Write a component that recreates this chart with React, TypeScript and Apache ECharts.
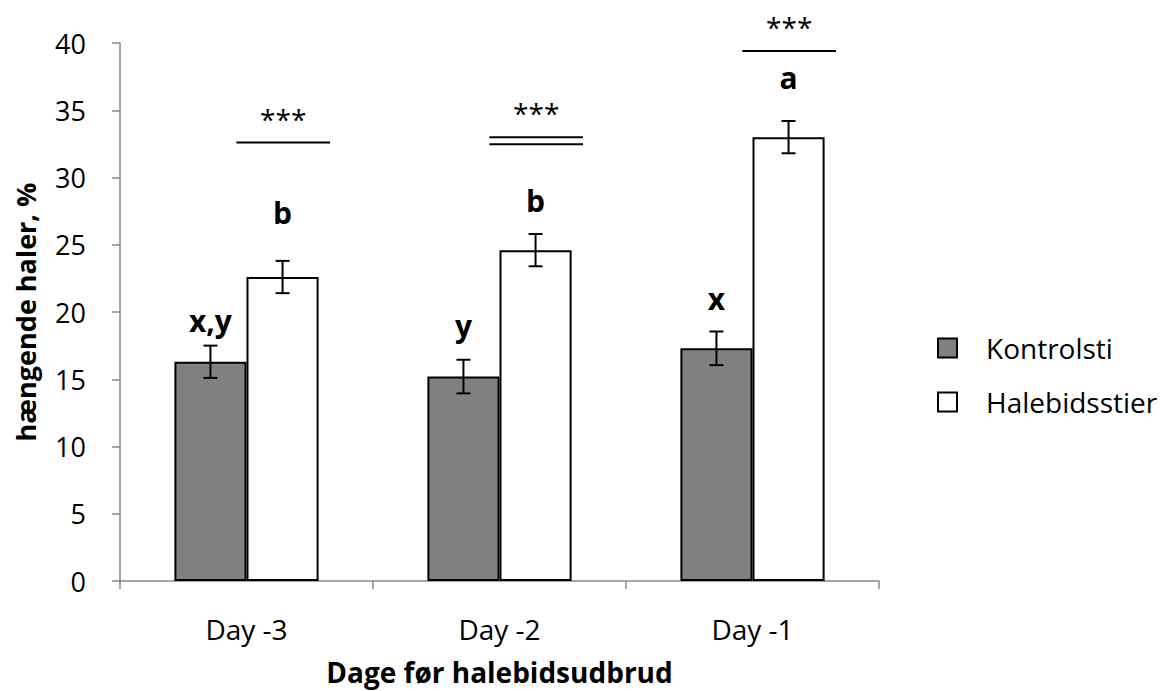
import React, { useEffect, useRef } from "react";
import * as echarts from "echarts";

const categories = ["Day -3", "Day -2", "Day -1"];
const kontrolValues = [16.3, 15.2, 17.3];
const kontrolErrors = [1.2, 1.25, 1.25];
const haleValues = [22.6, 24.6, 33.0];
const haleErrors = [1.2, 1.2, 1.2];
const kontrolLetters = ["x,y", "y", "x"];
const kontrolLetterY = [19.4, 19.0, 21.0];
const haleLetters = ["b", "b", "a"];
const haleLetterY = [27.4, 28.3, 37.4];
const sigLineY = [32.6, 33.0, 39.4];
const sigDouble = [0, 1, 0];
const sigText = ["***", "***", "***"];
const yTicks = [0, 5, 10, 15, 20, 25, 30, 35, 40];

const FONT = "'Open Sans', 'Noto Sans', sans-serif";
const BAR_FRAC = 0.285;

export default function App() {
  const ref = useRef<HTMLDivElement>(null);
  useEffect(() => {
    document.body.style.margin = "0";
    const chart = echarts.init(ref.current!, null, { renderer: "svg" });

    const errData: any[] = [];
    categories.forEach((_, i) => {
      errData.push([i, kontrolValues[i], kontrolErrors[i], -1]);
      errData.push([i, haleValues[i], haleErrors[i], 1]);
    });
    const letterData: any[] = [];
    categories.forEach((_, i) => {
      letterData.push([i, kontrolLetterY[i], -1, kontrolLetters[i]]);
      letterData.push([i, haleLetterY[i], 1, haleLetters[i]]);
    });
    const sigData = categories.map((_, i) => [i, sigLineY[i], sigDouble[i], sigText[i]]);

    const option: any = {
      animation: false,
      textStyle: { fontFamily: FONT },
      grid: { left: 120, right: 282, top: 43, bottom: 110, containLabel: false },
      legend: {
        data: ["Kontrolsti", "Halebidsstier"],
        orient: "vertical",
        left: 932,
        top: 329,
        itemWidth: 19,
        itemHeight: 19,
        itemGap: 26,
        icon: "rect",
        textStyle: { fontSize: 28, color: "#000", fontFamily: FONT, padding: [0, 0, 0, 24] },
      },
      xAxis: {
        type: "category",
        data: categories,
        axisLine: { lineStyle: { color: "#888", width: 1.5 } },
        axisTick: { show: true, length: 8, lineStyle: { color: "#888", width: 1.5 } },
        axisLabel: { fontSize: 28, color: "#000", margin: 34, fontFamily: FONT },
        name: "Dage før halebidsudbrud",
        nameLocation: "middle",
        nameGap: 77,
        nameTextStyle: { fontSize: 28, fontWeight: "bold", color: "#000", fontFamily: FONT },
      },
      yAxis: {
        type: "value",
        min: yTicks[0],
        max: yTicks[yTicks.length - 1],
        interval: yTicks[1] - yTicks[0],
        splitLine: { show: false },
        axisLine: { show: true, lineStyle: { color: "#888", width: 1.5 } },
        axisTick: { show: true, length: 8, lineStyle: { color: "#888", width: 1.5 } },
        axisLabel: { fontSize: 27, color: "#000", margin: 34, fontFamily: FONT },
        name: "hængende haler, %",
        nameLocation: "middle",
        nameGap: 81,
        nameTextStyle: { fontSize: 27, fontWeight: "bold", color: "#000", fontFamily: FONT },
      },
      series: [
        {
          name: "Kontrolsti",
          type: "bar",
          data: kontrolValues,
          barWidth: BAR_FRAC * 100 + "%",
          barGap: "0%",
          itemStyle: { color: "#808080", borderColor: "#000", borderWidth: 2 },
        },
        {
          name: "Halebidsstier",
          type: "bar",
          data: haleValues,
          barWidth: BAR_FRAC * 100 + "%",
          barGap: "0%",
          itemStyle: { color: "#ffffff", borderColor: "#000", borderWidth: 2 },
        },
        {
          name: "errors",
          type: "custom",
          data: errData,
          z: 10,
          renderItem: (params: any, api: any) => {
            const cat = api.value(0);
            const v = api.value(1);
            const e = api.value(2);
            const side = api.value(3);
            const w = api.size([1, 0])[0];
            const cx = api.coord([cat, v])[0] + (side * BAR_FRAC * w) / 2;
            const top = api.coord([cat, v + e])[1];
            const bot = api.coord([cat, v - e])[1];
            const cap = 7;
            const st = { stroke: "#000", lineWidth: 2 };
            return {
              type: "group",
              children: [
                { type: "line", shape: { x1: cx, y1: top, x2: cx, y2: bot }, style: st },
                { type: "line", shape: { x1: cx - cap, y1: top, x2: cx + cap, y2: top }, style: st },
                { type: "line", shape: { x1: cx - cap, y1: bot, x2: cx + cap, y2: bot }, style: st },
              ],
            };
          },
        },
        {
          name: "letters",
          type: "custom",
          data: letterData,
          z: 10,
          renderItem: (params: any, api: any) => {
            const cat = api.value(0);
            const v = api.value(1);
            const side = api.value(2);
            const txt = letterData[params.dataIndex][3];
            const w = api.size([1, 0])[0];
            const p = api.coord([cat, v]);
            return {
              type: "text",
              style: {
                x: p[0] + (side * BAR_FRAC * w) / 2,
                y: p[1],
                text: txt,
                fontSize: 30,
                fontWeight: "bold",
                fontFamily: FONT,
                fill: "#000",
                align: "center",
                verticalAlign: "middle",
              },
            };
          },
        },
        {
          name: "significance",
          type: "custom",
          data: sigData,
          z: 10,
          renderItem: (params: any, api: any) => {
            const cat = api.value(0);
            const v = api.value(1);
            const dbl = api.value(2);
            const txt = sigData[params.dataIndex][3];
            const w = api.size([1, 0])[0];
            const p = api.coord([cat, v]);
            const x1 = p[0] - 0.04 * w;
            const x2 = p[0] + 0.33 * w;
            const st = { stroke: "#000", lineWidth: 2 };
            const children: any[] = [
              { type: "line", shape: { x1, y1: p[1], x2, y2: p[1] }, style: st },
            ];
            if (dbl) {
              children.push({ type: "line", shape: { x1, y1: p[1] + 7, x2, y2: p[1] + 7 }, style: st });
            }
            children.push({
              type: "text",
              style: {
                x: (x1 + x2) / 2,
                y: p[1] - 24,
                text: txt,
                fontSize: 28,
                fontFamily: FONT,
                fill: "#000",
                align: "center",
                verticalAlign: "middle",
              },
            });
            return { type: "group", children };
          },
        },
      ],
    };
    chart.setOption(option);
    return () => chart.dispose();
  }, []);
  return <div ref={ref} style={{ width: 1161, height: 691 }} />;
}
